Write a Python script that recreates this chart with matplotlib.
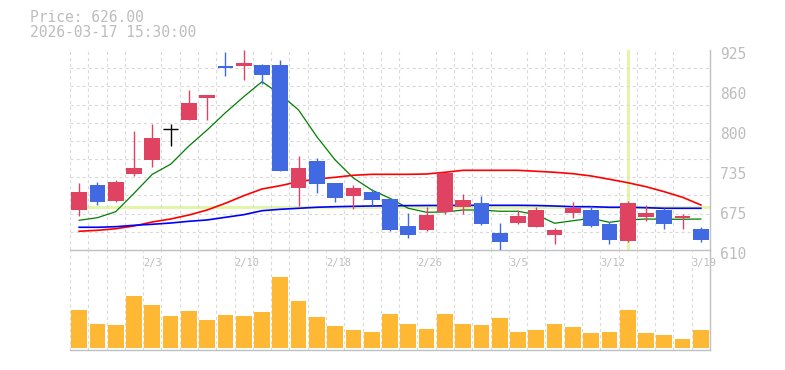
import matplotlib
matplotlib.use("Agg")
import matplotlib.pyplot as plt
import matplotlib.transforms as mtransforms
import numpy as np

plt.rcParams['lines.scale_dashes'] = False

dates = ["1/28", "1/29", "1/30", "2/2", "2/3", "2/4", "2/5", "2/6", "2/9", "2/10",
         "2/12", "2/13", "2/16", "2/17", "2/18", "2/19", "2/20", "2/24", "2/25", "2/26",
         "2/27", "3/2", "3/3", "3/4", "3/5", "3/6", "3/9", "3/10", "3/11", "3/12",
         "3/13", "3/16", "3/17", "3/18", "3/19"]
opens = [673.5, 712.4, 687.2, 730.2, 752.2, 800.1, 814.8, 849.9, 899.8, 900.3,
         901.4, 901.4, 708.1, 750.2, 715.5, 695.5, 701.9, 690.3, 648.3, 641.5,
         670.3, 678.2, 684.0, 637.2, 653.0, 646.7, 634.1, 668.3, 673.0, 651.0,
         624.7, 662.0, 673.0, 660.9, 643.1]
closes = [701.4, 685.6, 717.1, 739.2, 786.4, 800.1, 841.5, 854.1, 896.7, 904.5,
          886.1, 734.9, 739.2, 714.4, 692.4, 707.7, 689.3, 641.5, 634.1, 665.6,
          730.8, 688.8, 651.4, 623.1, 663.6, 673.0, 641.5, 676.6, 648.3, 626.2,
          684.0, 668.3, 651.4, 664.0, 626.0]
highs = [715.5, 717.1, 720.3, 797.4, 808.9, 808.5, 862.0, 854.1, 921.9, 925.0,
         903.0, 909.3, 758.0, 754.9, 715.5, 712.4, 706.1, 690.3, 668.3, 678.2,
         731.8, 698.2, 695.5, 652.5, 672.6, 678.2, 645.1, 685.6, 679.8, 654.6,
         687.2, 680.9, 676.2, 666.7, 646.2]
lows = [664.0, 681.4, 685.1, 727.0, 741.2, 774.3, 814.8, 814.8, 884.0, 877.7,
        871.0, 734.9, 679.8, 700.2, 685.6, 675.0, 681.4, 639.5, 629.4, 639.9,
        667.2, 667.2, 649.8, 610.5, 650.8, 646.7, 619.9, 659.9, 646.7, 619.9,
        623.1, 656.1, 643.5, 643.5, 623.1]
ma_green = [656.8, 660.9, 670.3, 699.3, 729.2, 745.0, 773.8, 799.0, 826.2, 851.4,
            875.1, 855.2, 830.5, 788.4, 751.8, 723.4, 704.5, 691.4, 675.7, 669.4,
            669.9, 673.0, 673.0, 671.0, 671.0, 665.6, 652.1, 656.1, 659.9, 653.6,
            657.3, 658.8, 658.4, 658.4, 658.8]
ma_red = [639.5, 641.0, 643.5, 647.8, 654.1, 658.8, 665.1, 673.0, 683.6, 695.5,
          706.1, 711.3, 717.6, 721.8, 724.5, 727.7, 729.2, 729.2, 729.2, 729.7,
          732.4, 735.5, 735.5, 735.5, 735.5, 734.0, 732.4, 730.2, 726.6, 721.4,
          716.0, 709.7, 701.8, 693.0, 680.9]
ma_blue = [645.8, 645.8, 646.7, 648.9, 650.5, 652.5, 655.2, 657.3, 661.5, 665.6,
           671.9, 674.1, 675.7, 677.3, 678.2, 678.8, 679.3, 679.6, 679.9, 680.1,
           680.2, 680.4, 680.4, 680.4, 680.4, 680.1, 679.3, 678.2, 678.2, 677.3,
           677.3, 676.6, 675.7, 675.7, 675.7]
volumes = [188, 118, 113, 258, 213, 158, 183, 138, 163, 158,
           178, 353, 233, 153, 108, 88, 78, 168, 118, 93,
           168, 118, 113, 148, 78, 88, 118, 103, 73, 78,
           188, 73, 63, 43, 88]
ytick_values = [610, 673, 736, 799, 862, 925]
ytick_labels = ["610", "675", "735", "800", "860", "925"]
xlabel_dates = ["2/3", "2/10", "2/18", "2/26", "3/5", "3/12", "3/19"]
cross_date = "3/13"
cross_price = 677.7
header_price = "Price: 626.00"
header_time = "2026-03-17 15:30:00"

UP = "#DF4361"
DOWN = "#4169E1"
DOJI = "#000000"
VOL = "#FFB833"
GRID = "#D9D9D9"
AXIS = "#C0C0C0"
TEXT = "#BDBDBD"
CROSS = "#E3F5A8"
MONO = "DejaVu Sans Mono"

W, H = 785, 370
fig = plt.figure(figsize=(W / 100, H / 100), dpi=100)
L, R = 70 / W, 710 / W
axp = fig.add_axes([L, 1 - 250 / H, R - L, 200 / H])
axv = fig.add_axes([L, 1 - 350 / H, R - L, 100 / H])

n = len(dates)
x = np.arange(n)
o = np.array(opens); c = np.array(closes)
hi = np.array(highs); lo = np.array(lows)

ymin, ymax = 610, 925
axp.set_xlim(-0.5, n - 0.5)
axp.set_ylim(ymin, ymax)

# grid
dash = (0, (2.2, 2.2))
axp.set_xticks(np.arange(-0.5, n, 1), minor=True)
axp.set_yticks(np.linspace(ymin, ymax, 12), minor=True)
axp.grid(which='minor', color=GRID, linestyle=dash, linewidth=0.8, zorder=0)
axp.grid(which='major', visible=False)
axp.tick_params(which='minor', length=0)

# crosshair
ci = dates.index(cross_date)
axp.axvline(ci, color=CROSS, linewidth=2.2, zorder=1)
axp.axhline(cross_price, color=CROSS, linewidth=2.2, zorder=1)

# moving averages
axp.plot(x, ma_green, color="#008000", linewidth=0.9, zorder=2)
axp.plot(x, ma_red, color="#FF0000", linewidth=1.2, zorder=2)
axp.plot(x, ma_blue, color="#0000FF", linewidth=1.2, zorder=2)

# candles
colors = [UP if cc > oo else (DOWN if cc < oo else DOJI) for oo, cc in zip(o, c)]
bw = 0.86
axp.vlines(x, lo, hi, colors=colors, linewidth=1.0, zorder=3)
body_bottom = np.minimum(o, c)
body_h = np.abs(c - o)
mask = body_h > 0
axp.bar(x[mask], np.maximum(body_h[mask], 1.2), bottom=body_bottom[mask], width=bw,
        color=[colors[i] for i in x[mask]], linewidth=0, zorder=4)
dj = ~mask
axp.hlines(c[dj], x[dj] - bw / 2, x[dj] + bw / 2, colors=DOJI, linewidth=1.0, zorder=4)

# axes styling
for s in ['left', 'top']:
    axp.spines[s].set_visible(False)
for s in ['bottom', 'right']:
    axp.spines[s].set_color(AXIS)
    axp.spines[s].set_linewidth(1.0)
axp.yaxis.tick_right()
axp.set_yticks(ytick_values)
axp.set_yticklabels(ytick_labels, fontfamily=MONO, fontsize=10.5, color=TEXT)
axp.tick_params(axis='y', which='major', length=0, pad=7)
off = mtransforms.ScaledTranslation(0, -3 / 100, fig.dpi_scale_trans)
for lbl in axp.get_yticklabels():
    lbl.set_transform(lbl.get_transform() + off)
xt = [dates.index(d) - 0.5 for d in xlabel_dates]
axp.set_xticks(xt)
axp.set_xticklabels(xlabel_dates, fontfamily=MONO, fontsize=7.5, color=TEXT, ha='left')
axp.tick_params(axis='x', which='major', length=0, pad=6)
axp.set_facecolor('none')

# volume
vol = np.array(volumes)
axv.set_xlim(-0.5, n - 0.5)
vscale = 5.0
axv.set_ylim(-2.3 * vscale, (100 - 2.3) * vscale)
axv.set_xticks(np.arange(-0.5, n, 1), minor=True)
axv.grid(which='minor', axis='x', color=GRID, linestyle=dash, linewidth=0.8, zorder=0)
axv.grid(which='major', visible=False)
axv.bar(x, vol, width=bw, color=VOL, linewidth=0, zorder=3)
axv.set_xticks([])
axv.set_yticks([])
axv.tick_params(which='both', length=0, labelbottom=False, labelleft=False)
for s in ['left', 'top']:
    axv.spines[s].set_visible(False)
for s in ['bottom', 'right']:
    axv.spines[s].set_color(AXIS)
    axv.spines[s].set_linewidth(1.0)
axv.patch.set_alpha(0)

# header
fig.text(30 / W, 1 - 18 / H, header_price, fontfamily=MONO, fontsize=10.5,
         color=TEXT, va='center', ha='left')
fig.text(30 / W, 1 - 32.5 / H, header_time, fontfamily=MONO, fontsize=10.5,
         color=TEXT, va='center', ha='left')

fig.savefig("out.png", dpi=100)
